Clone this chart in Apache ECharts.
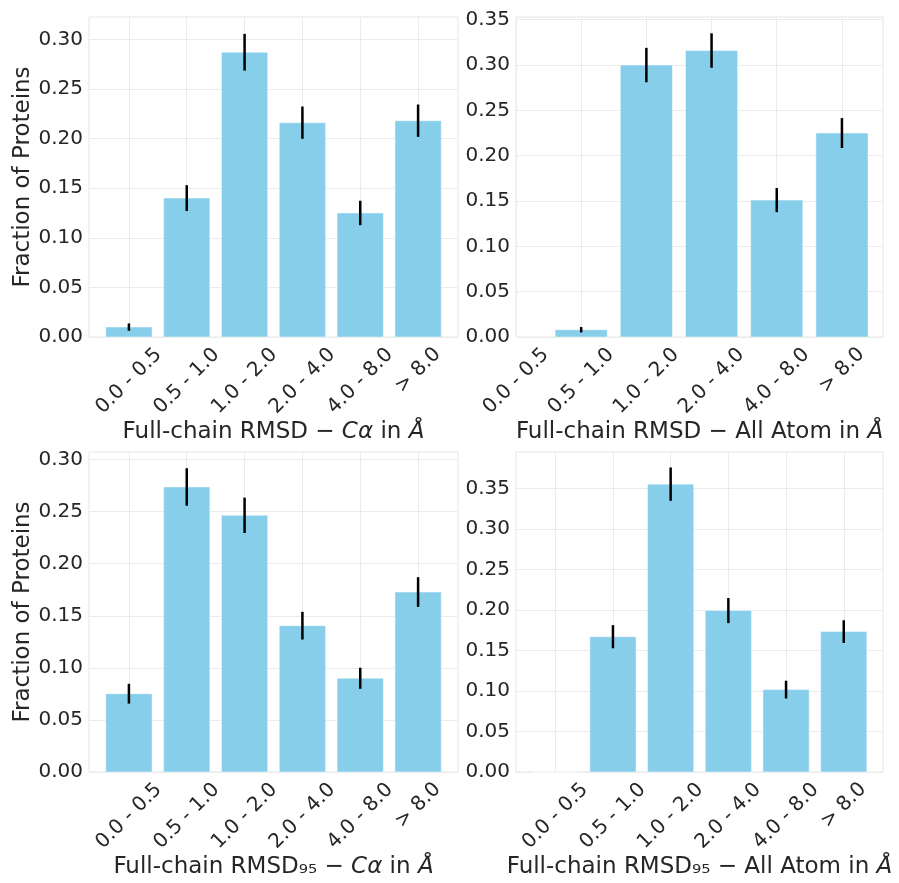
<!DOCTYPE html>
<html>
<head>
<meta charset="utf-8">
<script src="https://cdn.jsdelivr.net/npm/echarts@6/dist/echarts.min.js"></script>
<style>
html, body { margin: 0; padding: 0; background: #fff; }
#main { width: 899px; height: 883px; }
</style>
</head>
<body>
<div id="main"></div>
<script>
// categories (RMSD bins)
var cats = ['0.0 - 0.5', '0.5 - 1.0', '1.0 - 2.0', '2.0 - 4.0', '4.0 - 8.0', '> 8.0'];

// fraction of proteins + error per bin
var caVals = [0.010, 0.140, 0.287, 0.216, 0.125, 0.218];
var caErrs = [0.0037, 0.013, 0.0185, 0.0163, 0.0123, 0.0163];
var aaVals = [null, 0.008, 0.300, 0.316, 0.151, 0.225];
var aaErrs = [null, 0.003, 0.019, 0.019, 0.0133, 0.0165];
var ca95Vals = [0.0752, 0.2737, 0.2465, 0.1405, 0.090, 0.1728];
var ca95Errs = [0.0095, 0.018, 0.017, 0.0133, 0.0101, 0.0143];
var aa95Vals = [0, 0.167, 0.3553, 0.1993, 0.1017, 0.1733];
var aa95Errs = [0, 0.0143, 0.0206, 0.0155, 0.011, 0.014];

// tick labels
var yTicks30 = [0, 0.05, 0.10, 0.15, 0.20, 0.25, 0.30];
var yTicks35 = [0, 0.05, 0.10, 0.15, 0.20, 0.25, 0.30, 0.35];
var xTicks = [0, 1, 2, 3, 4, 5];

var FONT = 'DejaVu Sans';
var TXT = '#262626';
var GRIDC = '#ebebeb';

var panels = [
    {left: 89, top: 17, width: 369, xmin: -0.69, xmax: 5.69, ymax: 0.3225, ticks: yTicks30, vals: caVals, errs: caErrs,
     name: '{n|Full-chain RMSD − }{i|Cα}{n| in }{i|Å}', yname: 'Fraction of Proteins'},
    {left: 516, top: 17, width: 367, xmin: 0, xmax: 5.63, ymax: 0.353, ticks: yTicks35, vals: aaVals, errs: aaErrs,
     name: '{n|Full-chain RMSD − All Atom in }{i|Å}', yname: ''},
    {left: 89, top: 452, width: 369, xmin: -0.69, xmax: 5.69, ymax: 0.3073, ticks: yTicks30, vals: ca95Vals, errs: ca95Errs,
     name: '{n|Full-chain RMSD₉₅ − }{i|Cα}{n| in }{i|Å}', yname: 'Fraction of Proteins'},
    {left: 516, top: 452, width: 367, xmin: -0.68, xmax: 5.68, ymax: 0.395, ticks: yTicks35, vals: aa95Vals, errs: aa95Errs,
     name: '{n|Full-chain RMSD₉₅ − All Atom in }{i|Å}', yname: ''}
];

function renderBar(params, api) {
    var x = api.value(0), v = api.value(1);
    var p0 = api.coord([x - 0.4, v]);
    var p1 = api.coord([x + 0.4, 0]);
    return {
        type: 'rect',
        shape: {x: p0[0], y: p0[1], width: p1[0] - p0[0], height: p1[1] - p0[1]},
        style: {fill: '#87ceeb', stroke: 'rgba(255,255,255,0.45)', lineWidth: 1}
    };
}

function renderErr(params, api) {
    var x = api.value(0), v = api.value(1), e = api.value(2);
    var a = api.coord([x, v - e]);
    var b = api.coord([x, v + e]);
    return {
        type: 'line',
        shape: {x1: a[0], y1: a[1], x2: b[0], y2: b[1]},
        style: {stroke: '#000', lineWidth: 2.5}
    };
}

var option = {
    animation: false,
    textStyle: {fontFamily: FONT},
    grid: [], xAxis: [], yAxis: [], series: []
};

panels.forEach(function (p, k) {
    option.grid.push({
        left: p.left, top: p.top, width: p.width, height: 320,
        show: true, borderColor: '#e6e6e6', borderWidth: 1,
        outerBoundsMode: 'none'
    });
    option.xAxis.push({
        type: 'value', gridIndex: k, min: p.xmin, max: p.xmax,
        axisLine: {show: false}, axisTick: {show: false, customValues: xTicks},
        splitLine: {show: true, lineStyle: {color: GRIDC, width: 1}},
        axisLabel: {
            customValues: xTicks, rotate: 45, align: 'center', verticalAlign: 'middle',
            margin: 44, fontSize: 20, color: TXT, fontFamily: FONT,
            formatter: function (v) {
                var s = cats[Math.round(v)];
                return s.charAt(0) === '>' ? '{s|' + s + '}' : s;
            },
            rich: {s: {fontSize: 20, color: TXT, fontFamily: FONT, padding: [0, 0, 15, 15]}}
        },
        name: p.name, nameLocation: 'middle', nameGap: 84, nameMoveOverlap: false,
        nameTextStyle: {
            fontSize: 23, color: TXT,
            rich: {
                n: {fontSize: 23, color: TXT, fontFamily: FONT},
                i: {fontSize: 23, color: TXT, fontFamily: FONT, fontStyle: 'italic'}
            }
        }
    });
    option.yAxis.push({
        type: 'value', gridIndex: k, min: 0, max: p.ymax, interval: 0.05,
        axisLine: {show: false}, axisTick: {show: false, customValues: p.ticks},
        splitLine: {show: true, lineStyle: {color: GRIDC, width: 1}},
        axisLabel: {
            customValues: p.ticks, margin: 6, fontSize: 20, color: TXT, fontFamily: FONT,
            formatter: function (v) { return v.toFixed(2); }
        },
        name: p.yname, nameLocation: 'middle', nameGap: 54, nameMoveOverlap: false,
        nameTextStyle: {fontSize: 23, color: TXT, fontFamily: FONT}
    });
    var barData = [], errData = [];
    for (var i = 0; i < cats.length; i++) {
        if (p.vals[i] === null) continue;
        barData.push([i, p.vals[i]]);
        errData.push([i, p.vals[i], p.errs[i]]);
    }
    option.series.push({
        type: 'custom', xAxisIndex: k, yAxisIndex: k, renderItem: renderBar,
        data: barData, encode: {x: 0, y: 1}, z: 2
    });
    option.series.push({
        type: 'custom', xAxisIndex: k, yAxisIndex: k, renderItem: renderErr,
        data: errData, encode: {x: 0, y: [1, 2]}, z: 3
    });
});

var myChart = echarts.init(document.getElementById('main'));
myChart.setOption(option);
</script>
</body>
</html>
